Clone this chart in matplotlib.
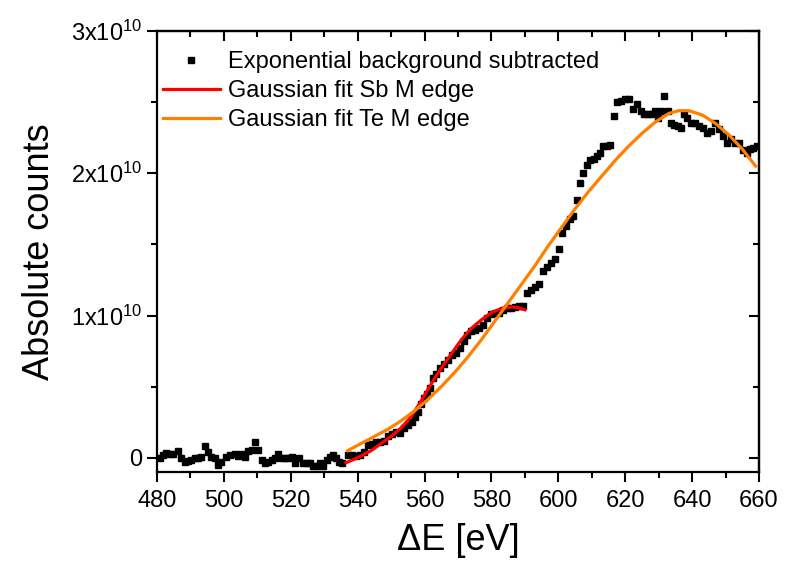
import matplotlib
matplotlib.use("Agg")
import matplotlib.pyplot as plt
from matplotlib.ticker import MultipleLocator, FuncFormatter
from matplotlib.lines import Line2D

plt.rcParams['font.family'] = ['Liberation Sans', 'DejaVu Sans']
plt.rcParams['mathtext.fontset'] = 'custom'
plt.rcParams['mathtext.rm'] = 'Liberation Sans'
plt.rcParams['mathtext.it'] = 'Liberation Sans'

# measured spectrum (energy loss in eV, counts in units of 1e10)
energy = [480.9, 481.8, 482.7, 483.9, 484.8, 486.3, 487.2, 488.4, 489.3, 490.2,
          491.4, 492.3, 493.2, 494.4, 495.3, 496.1, 497.3, 498.2, 499.1, 500.6,
          501.8, 503.3, 504.2, 505.1, 506.3, 507.2, 508.4, 509.3, 510.2, 511.4,
          512.3, 513.2, 514.4, 515.3, 516.2, 517.4, 518.3, 519.2, 520.4, 521.3,
          522.5, 523.7, 524.9, 525.8, 526.7, 527.8, 528.7, 529.6, 530.8, 531.7,
          532.6, 533.5, 534.4, 535.3, 537.1, 538.3, 539.5, 540.7, 541.9, 543.1,
          544.3, 545.5, 546.7, 547.9, 549.1, 550.3, 551.5, 552.7, 553.9, 555.1,
          556.3, 557.2, 558.0, 558.9, 559.8, 560.7, 561.6, 562.5, 563.4, 564.6,
          565.8, 567.0, 568.2, 569.4, 570.6, 571.8, 572.7, 573.9, 575.1, 576.3,
          577.5, 578.7, 579.9, 581.1, 582.3, 583.5, 584.7, 585.9, 587.1, 588.3,
          589.4, 590.6, 591.8, 593.0, 594.2, 595.4, 596.6, 597.8, 599.0, 600.2,
          601.1, 602.3, 603.5, 604.4, 605.6, 606.5, 607.4, 608.6, 609.5, 610.7,
          611.6, 612.5, 613.4, 614.6, 615.5, 616.7, 617.6, 618.8, 620.0, 621.2,
          622.3, 623.5, 624.7, 625.6, 626.8, 627.7, 628.9, 629.8, 630.7, 631.6,
          632.8, 633.7, 634.6, 635.8, 636.7, 637.6, 638.5, 639.7, 640.9, 642.1,
          643.3, 644.5, 645.7, 646.9, 648.1, 649.3, 650.5, 651.6, 652.8, 654.0,
          655.2, 656.4, 657.3, 658.2, 659.4]
counts = [0.00, 0.02, 0.035, 0.03, 0.025, 0.05, 0.00, -0.03, -0.02, -0.015,
          0.00, 0.00, 0.005, 0.08, 0.04, 0.005, 0.00, -0.05, -0.03, 0.005,
          0.02, 0.03, 0.015, 0.03, 0.005, 0.05, 0.055, 0.11, 0.055, -0.015,
          -0.04, -0.03, -0.015, 0.00, 0.03, 0.00, -0.005, 0.00, 0.005, -0.035,
          0.00, -0.035, -0.035, -0.04, -0.055, -0.06, -0.04, -0.06, -0.015, 0.005,
          0.02, 0.00, -0.03, -0.035, 0.02, 0.02, 0.01, 0.02, 0.04, 0.09,
          0.10, 0.11, 0.11, 0.12, 0.15, 0.17, 0.18, 0.175, 0.21, 0.23,
          0.25, 0.29, 0.32, 0.38, 0.42, 0.45, 0.49, 0.56, 0.59, 0.63,
          0.66, 0.69, 0.72, 0.74, 0.77, 0.82, 0.86, 0.89, 0.90, 0.91,
          0.93, 0.98, 1.01, 1.02, 1.02, 1.04, 1.05, 1.05, 1.06, 1.07,
          1.07, 1.16, 1.18, 1.20, 1.22, 1.31, 1.34, 1.37, 1.40, 1.47,
          1.58, 1.63, 1.68, 1.70, 1.81, 1.93, 2.00, 2.06, 2.09, 2.10,
          2.12, 2.14, 2.19, 2.19, 2.20, 2.40, 2.50, 2.51, 2.52, 2.52,
          2.45, 2.49, 2.44, 2.42, 2.42, 2.42, 2.44, 2.39, 2.44, 2.54,
          2.44, 2.35, 2.34, 2.33, 2.32, 2.42, 2.39, 2.35, 2.35, 2.33,
          2.32, 2.28, 2.30, 2.35, 2.31, 2.26, 2.21, 2.24, 2.21, 2.21,
          2.16, 2.14, 2.17, 2.18, 2.19]

# Gaussian fit Sb M edge
sb_energy = [536.5, 538.0, 540.0, 542.0, 544.0, 547.0, 550.0, 553.0, 556.0, 559.0,
             562.0, 565.0, 568.0, 571.0, 574.0, 577.0, 580.0, 583.0, 586.0, 588.0, 590.0]
sb_counts = [-0.035, -0.02, 0.00, 0.025, 0.05, 0.10, 0.15, 0.21, 0.29, 0.40,
             0.52, 0.63, 0.73, 0.83, 0.91, 0.97, 1.02, 1.05, 1.06, 1.055, 1.04]

# Gaussian fit Te M edge
te_energy = [537.0, 541.0, 545.0, 549.0, 553.0, 557.0, 561.0, 565.0, 569.0, 573.0,
             577.0, 581.0, 585.0, 589.0, 593.0, 597.0, 601.0, 605.0, 609.0, 613.0,
             617.0, 621.0, 625.0, 629.0, 633.0, 636.0, 639.0, 643.0, 647.0, 651.0,
             655.0, 659.0]
te_counts = [0.05, 0.10, 0.15, 0.20, 0.26, 0.33, 0.41, 0.50, 0.60, 0.71,
             0.83, 0.96, 1.09, 1.22, 1.35, 1.49, 1.62, 1.75, 1.87, 1.98,
             2.09, 2.19, 2.28, 2.36, 2.42, 2.44, 2.44, 2.41, 2.35, 2.27,
             2.17, 2.05]

scale = 1e10
fig = plt.figure(figsize=(7.87, 5.72), dpi=100)
ax = fig.add_axes([157/787, 1-472/572, 602/787, 441/572])

ax.plot(energy, [c*scale for c in counts], ls='none', marker='s', ms=4.3,
        color='black', label='Exponential background subtracted', zorder=3)
ax.plot(sb_energy, [c*scale for c in sb_counts], color='#ff0000', lw=2.3,
        label='Gaussian fit Sb M edge', zorder=4)
ax.plot(te_energy, [c*scale for c in te_counts], color='#ff8000', lw=2.3,
        label='Gaussian fit Te M edge', zorder=4)

ax.set_xlim(480, 660)
ax.set_ylim(-0.1e10, 3e10)
ax.xaxis.set_major_locator(MultipleLocator(20))
ax.xaxis.set_minor_locator(MultipleLocator(10))
ax.yaxis.set_major_locator(MultipleLocator(1e10))
ax.yaxis.set_minor_locator(MultipleLocator(0.5e10))

def yfmt(v, pos):
    n = int(round(v/1e10))
    if n == 0:
        return '0'
    return r'$\mathregular{%dx10^{10}}$' % n
ax.yaxis.set_major_formatter(FuncFormatter(yfmt))

for s in ax.spines.values():
    s.set_linewidth(1.6)
ax.tick_params(which='both', direction='out', width=1.5, labelsize=17,
               top=False, right=False)
ax.tick_params(which='major', length=7)
ax.tick_params(which='minor', length=4)
ax.tick_params(axis='x', pad=6)

# mirrored inward ticks on top and right
axt = ax.secondary_xaxis('top')
axt.xaxis.set_major_locator(MultipleLocator(20))
axt.xaxis.set_minor_locator(MultipleLocator(10))
axt.tick_params(which='both', direction='in', width=1.5, labeltop=False)
axt.tick_params(which='major', length=7)
axt.tick_params(which='minor', length=4)
axr = ax.secondary_yaxis('right')
axr.yaxis.set_major_locator(MultipleLocator(1e10))
axr.yaxis.set_minor_locator(MultipleLocator(0.5e10))
axr.tick_params(which='both', direction='in', width=1.5, labelright=False)
axr.tick_params(which='major', length=7)
axr.tick_params(which='minor', length=4)
for s in list(axt.spines.values()) + list(axr.spines.values()):
    s.set_linewidth(1.6)

ax.set_xlabel(r'ΔE [eV]', fontsize=26, labelpad=8)
ax.set_ylabel('Absolute counts', fontsize=26, labelpad=10)

leg = ax.legend(loc='upper left', bbox_to_anchor=(0.01, 0.955), frameon=False,
                fontsize=17, borderpad=0, borderaxespad=0, handlelength=2.4,
                handletextpad=0.35, labelspacing=0.3, markerscale=1.0)

fig.savefig('out.png', dpi=100)
